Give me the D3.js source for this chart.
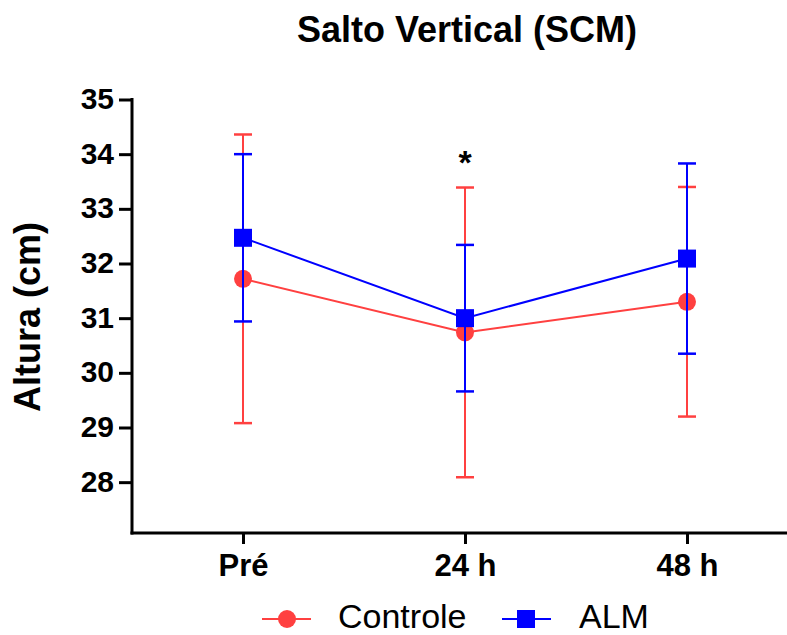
<!DOCTYPE html>
<html>
<head>
<meta charset="utf-8">
<script src="https://cdn.jsdelivr.net/npm/d3@7"></script>
<style>
  body { margin: 0; background: #fff; }
  svg { font-family: "Liberation Sans", Arial, sans-serif; }
</style>
</head>
<body>
<div id="chart"></div>
<script>
// chart data
var categories = ["Pré", "24 h", "48 h"];
var controleMean = [31.72, 30.74, 31.30];
var controleSD = [2.64, 2.65, 2.10];
var almMean = [32.47, 31.00, 32.09];
var almSD = [1.53, 1.34, 1.74];
var yTicks = [28, 29, 30, 31, 32, 33, 34, 35];

var svgWidth = 787;
var svgHeight = 635;

var svg = d3.select("#chart")
  .append("svg")
  .attr("width", svgWidth)
  .attr("height", svgHeight);

// scales
var xScale = d3.scalePoint()
  .domain(categories)
  .range([132, 798])
  .padding(0.5);

var yScale = d3.scaleLinear()
  .domain([27.07, 35])
  .range([533, 99.5]);

// title
svg.append("text")
  .attr("x", 467)
  .attr("y", 42)
  .attr("text-anchor", "middle")
  .attr("font-size", "36px")
  .attr("font-weight", "bold")
  .text("Salto Vertical (SCM)");

// y axis label
svg.append("text")
  .attr("transform", "translate(40, 317) rotate(-90)")
  .attr("text-anchor", "middle")
  .attr("font-size", "36px")
  .attr("font-weight", "bold")
  .text("Altura (cm)");

// y axis
var leftAxis = d3.axisLeft(yScale)
  .tickValues(yTicks)
  .tickSize(13)
  .tickSizeOuter(0)
  .tickPadding(5);

var yAxis = svg.append("g")
  .attr("transform", "translate(132, 0)")
  .call(leftAxis);
yAxis.select(".domain").remove();
yAxis.append("line")
  .attr("x1", 0).attr("x2", 0)
  .attr("y1", yScale(35) - 1.5).attr("y2", 534.5)
  .attr("stroke", "#000").attr("stroke-width", 3);
yAxis.selectAll(".tick line").attr("stroke-width", 3);
yAxis.selectAll(".tick text")
  .attr("font-size", "30px")
  .attr("font-weight", "bold")
  .attr("fill", "#000")
  .attr("dy", "0.3em");

// x axis
var bottomAxis = d3.axisBottom(xScale)
  .tickSize(11)
  .tickSizeOuter(0)
  .tickPadding(6);

var xAxis = svg.append("g")
  .attr("transform", "translate(0, 533)")
  .call(bottomAxis);
xAxis.select(".domain").remove();
xAxis.append("line")
  .attr("x1", 130.5).attr("x2", 787)
  .attr("y1", 0).attr("y2", 0)
  .attr("stroke", "#000").attr("stroke-width", 3);
xAxis.selectAll(".tick line").attr("stroke-width", 3);
xAxis.selectAll(".tick text")
  .attr("font-size", "31px")
  .attr("font-weight", "bold")
  .attr("fill", "#000")
  .attr("dy", "0.85em");

// series
var series = [
  { name: "Controle", mean: controleMean, sd: controleSD, color: "#ff4040", shape: "circle" },
  { name: "ALM", mean: almMean, sd: almSD, color: "#0000ff", shape: "square" }
];

var line = d3.line()
  .x(function(d, i) { return xScale(categories[i]); })
  .y(function(d) { return yScale(d); });

series.forEach(function(s) {
  var g = svg.append("g");

  // error bars
  categories.forEach(function(c, i) {
    var x = xScale(c);
    var top = yScale(s.mean[i] + s.sd[i]);
    var bot = yScale(s.mean[i] - s.sd[i]);
    g.append("line")
      .attr("x1", x).attr("x2", x)
      .attr("y1", top).attr("y2", bot)
      .attr("stroke", s.color).attr("stroke-width", 2);
    [top, bot].forEach(function(y) {
      g.append("line")
        .attr("x1", x - 9).attr("x2", x + 9)
        .attr("y1", y).attr("y2", y)
        .attr("stroke", s.color).attr("stroke-width", 2.5);
    });
  });

  // connecting line
  g.append("path")
    .datum(s.mean)
    .attr("d", line)
    .attr("fill", "none")
    .attr("stroke", s.color)
    .attr("stroke-width", 2);

  // markers
  if (s.shape === "circle") {
    g.selectAll("circle")
      .data(s.mean)
      .enter()
      .append("circle")
      .attr("cx", function(d, i) { return xScale(categories[i]); })
      .attr("cy", function(d) { return yScale(d); })
      .attr("r", 9)
      .attr("fill", s.color);
  } else {
    g.selectAll("rect")
      .data(s.mean)
      .enter()
      .append("rect")
      .attr("x", function(d, i) { return xScale(categories[i]) - 9; })
      .attr("y", function(d) { return yScale(d) - 9; })
      .attr("width", 18)
      .attr("height", 18)
      .attr("fill", s.color);
  }
});

// significance mark
svg.append("text")
  .attr("x", xScale("24 h"))
  .attr("y", 174)
  .attr("text-anchor", "middle")
  .attr("font-size", "34px")
  .attr("font-weight", "bold")
  .text("*");

// legend
var legend = svg.append("g").attr("transform", "translate(0, 619)");

legend.append("line")
  .attr("x1", 262).attr("x2", 311).attr("y1", 0).attr("y2", 0)
  .attr("stroke", "#ff4040").attr("stroke-width", 2);
legend.append("circle")
  .attr("cx", 287).attr("cy", 0).attr("r", 9)
  .attr("fill", "#ff4040");
legend.append("text")
  .attr("x", 338).attr("y", 9)
  .attr("font-size", "34px")
  .text("Controle");

legend.append("line")
  .attr("x1", 502).attr("x2", 551).attr("y1", 0).attr("y2", 0)
  .attr("stroke", "#0000ff").attr("stroke-width", 2);
legend.append("rect")
  .attr("x", 517).attr("y", -9).attr("width", 18).attr("height", 18)
  .attr("fill", "#0000ff");
legend.append("text")
  .attr("x", 579).attr("y", 9)
  .attr("font-size", "34px")
  .text("ALM");
</script>
</body>
</html>
